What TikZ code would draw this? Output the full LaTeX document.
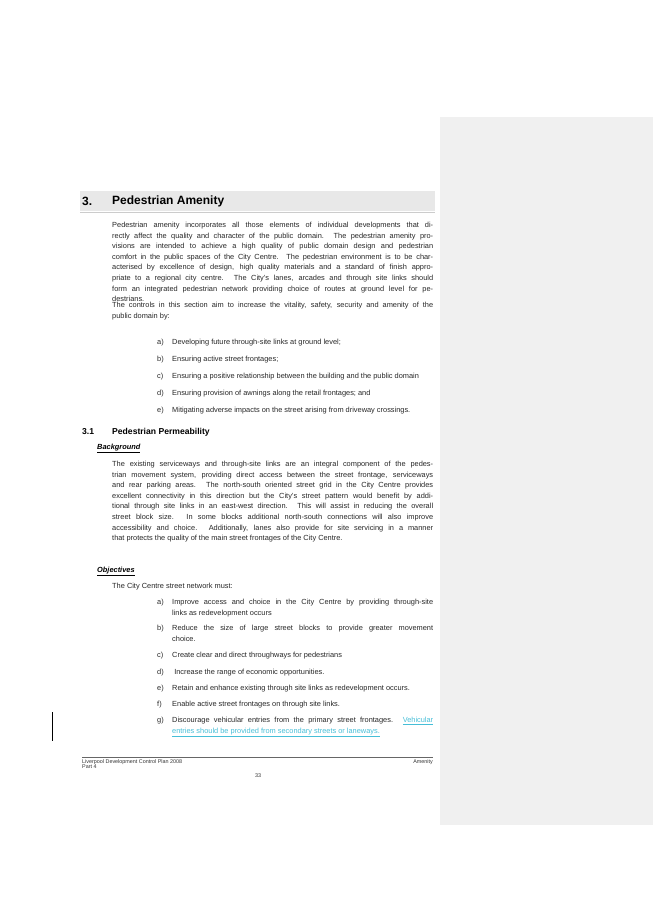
\documentclass[tikz,border=0pt]{standalone}
\usepackage{fontspec}
\setmainfont{Liberation Sans}
\usetikzlibrary{positioning}
\definecolor{panelgray}{RGB}{240,240,240}
\definecolor{bargray}{RGB}{232,232,232}
\definecolor{linkcyan}{RGB}{70,190,215}

\begin{document}
\begin{tikzpicture}[x=1pt, y=-1pt,
    body/.style={anchor=north west, inner sep=0pt, text width=321pt, align=justify,
      font=\fontsize{7.4}{10.6}\selectfont, text=black!85},
    itemtext/.style={body, text width=261pt},
    letter/.style={anchor=north west, inner sep=0pt, font=\fontsize{7.4}{10.6}\selectfont, text=black!85},
    subhead/.style={anchor=north west, inner sep=0pt, font=\fontsize{7.4}{10.6}\selectfont\itshape\bfseries},
    foot/.style={anchor=north west, inner sep=0pt, font=\fontsize{5.4}{7}\selectfont, text=black!80}
]
\useasboundingbox (0,0) rectangle (653,923);

% Comment panel
\fill[panelgray] (440,117) rectangle (653,825);

% Chapter heading
\fill[bargray] (80,191) rectangle (435,211);
\draw[black!20] (80,212) -- (435,212);
\node[anchor=west, inner sep=0pt, font=\fontsize{12}{14}\selectfont\bfseries] (chapnum) at (82,201) {3.};
\node[anchor=west, inner sep=0pt, font=\fontsize{12}{14}\selectfont\bfseries] (chaptitle) at (112,201) {Pedestrian Amenity};

% Intro
\node[body] (intro) at (112,222) {Pedestrian amenity incorporates all those elements of individual developments that di-\linebreak rectly affect the quality and character of the public domain. The pedestrian amenity pro-\linebreak visions are intended to achieve a high quality of public domain design and pedestrian\linebreak comfort in the public spaces of the City Centre. The pedestrian environment is to be char-\linebreak acterised by excellence of design, high quality materials and a standard of finish appro-\linebreak priate to a regional city centre. The City's lanes, arcades and through site links should\linebreak form an integrated pedestrian network providing choice of routes at ground level for pe-\linebreak destrians.};
\node[body] (controls) at (112,302) {The controls in this section aim to increase the vitality, safety, security and amenity of the\linebreak public domain by:};

% Control list
\foreach \l/\t/\y in {a)/Developing future through-site links at ground level;/339,
    b)/Ensuring active street frontages;/356,
    c)/Ensuring a positive relationship between the building and the public domain/373,
    d)/Ensuring provision of awnings along the retail frontages; and/390,
    e)/Mitigating adverse impacts on the street arising from driveway crossings./407} {
  \node[letter] (ctl-\l) at (157,\y) {\l};
  \node[itemtext] (ctltext-\l) at (172,\y) {\t};
}

% Section 3.1
\node[anchor=north west, inner sep=0pt, font=\fontsize{8.6}{10}\selectfont\bfseries] (secnum) at (82,428) {3.1};
\node[anchor=north west, inner sep=0pt, font=\fontsize{8.6}{10}\selectfont\bfseries] (sectitle) at (112,428) {Pedestrian Permeability};
\node[subhead] (background) at (97,444) {\underline{Background}};
\node[body] (bgtext) at (112,461) {The existing serviceways and through-site links are an integral component of the pedes-\linebreak trian movement system, providing direct access between the street frontage, serviceways\linebreak and rear parking areas. The north-south oriented street grid in the City Centre provides\linebreak excellent connectivity in this direction but the City's street pattern would benefit by addi-\linebreak tional through site links in an east-west direction. This will assist in reducing the overall\linebreak street block size. In some blocks additional north-south connections will also improve\linebreak accessibility and choice. Additionally, lanes also provide for site servicing in a manner\linebreak that protects the quality of the main street frontages of the City Centre.};

% Objectives
\node[subhead] (objectives) at (97,567) {\underline{Objectives}};
\node[body] (network) at (112,583) {The City Centre street network must:};
\foreach \l/\t/\y in {a)/{Improve access and choice in the City Centre by providing through-site\linebreak links as redevelopment occurs}/599,
    b)/{Reduce the size of large street blocks to provide greater movement\linebreak choice.}/625,
    c)/{Create clear and direct throughways for pedestrians}/652,
    d)/{\ Increase the range of economic opportunities.}/669,
    e)/{Retain and enhance existing through site links as redevelopment occurs.}/685,
    f)/{Enable active street frontages on through site links.}/701} {
  \node[letter] (obj-\l) at (157,\y) {\l};
  \node[itemtext] (objtext-\l) at (172,\y) {\t};
}
\node[letter] (obj-g) at (157,717) {g)};
\node[itemtext] (objtext-g) at (172,717) {Discourage vehicular entries from the primary street frontages. {\color{linkcyan}\underline{Vehicular}\linebreak \underline{entries should be provided from secondary streets or laneways.}}};

% Change bar
\draw[black, thin] (52,712) -- (52,741);

% Footer
\draw[black!60, thin] (82,757) -- (433,757);
\node[foot] (plan) at (82,759) {Liverpool Development Control Plan 2008};
\node[foot, below=0.4pt of plan.south west, anchor=north west] (part) {Part 4};
\node[foot, anchor=north east] (chapter) at (433,759) {Amenity};
\node[foot, anchor=north] (page) at (258,774) {33};
\end{tikzpicture}
\end{document}
